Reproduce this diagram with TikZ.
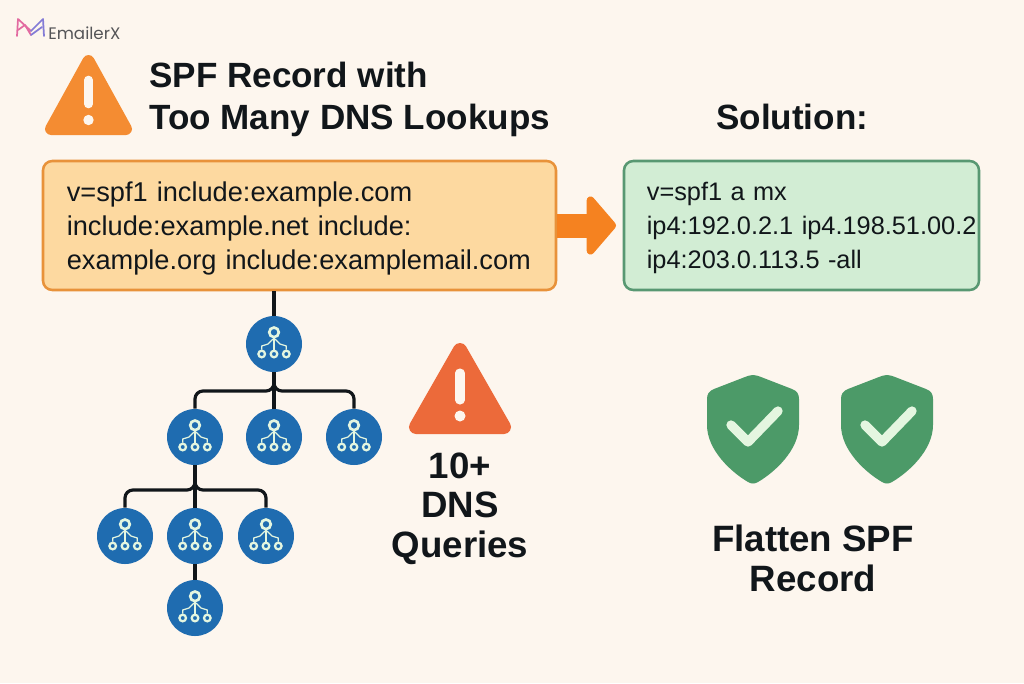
\documentclass[tikz,border=0pt]{standalone}
\usepackage{fontspec}
\setmainfont{Liberation Sans}
\newfontfamily\logofont{Poppins}
\usetikzlibrary{arrows.meta}

\definecolor{pagecream}{RGB}{253,246,238}
\definecolor{inkdark}{RGB}{17,22,26}
\definecolor{boxorange}{RGB}{253,217,160}
\definecolor{lineorange}{RGB}{232,146,58}
\definecolor{boxgreen}{RGB}{210,237,212}
\definecolor{linegreen}{RGB}{88,152,114}
\definecolor{arroworange}{RGB}{245,130,32}
\definecolor{warnorange}{RGB}{244,140,50}
\definecolor{warnred}{RGB}{236,106,58}
\definecolor{netblue}{RGB}{31,108,176}
\definecolor{shieldgreen}{RGB}{76,154,104}
\definecolor{checkgreen}{RGB}{228,246,224}
\definecolor{logopink}{RGB}{226,106,160}
\definecolor{logoviolet}{RGB}{132,124,214}

\tikzset{
  recordbox/.style={draw, line width=1.9pt, rounded corners=7pt, minimum height=96.75pt, inner xsep=0pt, inner ysep=0pt, align=left, text=inkdark},
  headtext/.style={text=inkdark, font=\fontsize{26.3}{31.5}\selectfont\bfseries, align=left, inner sep=0pt},
  sidetext/.style={text=inkdark, font=\fontsize{27.5}{29.5}\selectfont\bfseries, align=center, inner sep=0pt},
  netnode/.style={circle, fill=netblue, minimum size=42pt, inner sep=0pt},
  treeline/.style={draw=inkdark, line width=2.4pt},
  glyphline/.style={draw=checkgreen, line width=0.9pt},
  logoline/.style={line width=1.3pt, line join=round, line cap=round},
  netglyph/.pic={
    \begin{scope}[yscale=-1]
    \draw [glyphline, line width=2pt] (0,-11.7) circle [radius=4.8];
    \draw [glyphline, line width=1.7pt] (-12.3,10) circle [radius=3.3];
    \draw [glyphline, line width=1.7pt] (0,10) circle [radius=3.3];
    \draw [glyphline, line width=1.7pt] (12.3,10) circle [radius=3.3];
    \draw [glyphline] (0,-6) -- (0,5.5);
    \draw [glyphline] (-1,-5) -- (-6,0) -- (-12.3,2) -- (-12.3,5.5);
    \draw [glyphline] (1,-5) -- (6,0) -- (12.3,2) -- (12.3,5.5);
    \end{scope}
  },
  shieldmark/.pic={
    \begin{scope}[yscale=-1]
    \fill [shieldgreen] (0,0) .. controls (3,0) and (5,1) .. (8,2) -- (39,14) .. controls (44,16) and (46,19) .. (46,24) -- (46,50) .. controls (46,75) and (22,97) .. (5,107) .. controls (2,109) and (-2,109) .. (-5,107) .. controls (-22,97) and (-46,75) .. (-46,50) -- (-46,24) .. controls (-46,19) and (-44,16) .. (-39,14) -- (-8,2) .. controls (-5,1) and (-3,0) .. (0,0) -- cycle ;
    \draw [checkgreen, line width=7pt, line cap=round, line join=round] (-22,50) -- (-5,67) -- (25,36) ;
    \end{scope}
  },
}

\begin{document}
\begin{tikzpicture}[x=0.75pt,y=0.75pt,yscale=-1,xscale=1]

    %Page background
    \fill [pagecream] (0,0) rectangle (1024,683) ;
    \useasboundingbox (0,0) rectangle (1024,683) ;

    %Logo
    \draw [logoline, draw=logopink] (17,36) -- (18,19) -- (31,31) ;
    \draw [logoline, draw=logopink] (18,30) -- (25,25) -- (31,35) ;
    \draw [logoline, draw=logoviolet] (31,31) -- (43,19) -- (44,36) ;
    \draw [logoline, draw=logoviolet] (31,35) -- (42,27) ;
    \node [anchor=west, inner sep=0pt, text={rgb,255:red,85;green,85;blue,88}, font=\logofont\fontsize{12.5}{14}\selectfont] (logotext) at (48,33) {EmailerX} ;

    %Warning triangle, orange
    \fill [warnorange, draw=warnorange, line width=9pt, line join=round] (88.5,61) -- (126,129) -- (51,129) -- cycle ;
    \draw [pagecream, line width=6.5pt, line cap=round] (88.5,80) -- (88.5,104) ;
    \fill [pagecream] (88.5,120) circle [radius=5.2] ;

    %Title
    \node [headtext, anchor=base west] (title) at (149,129) {SPF Record with\\Too Many DNS Lookups} ;
    \node [headtext, anchor=base west] (solution) at (716,129) {Solution:} ;

    %Record boxes
    \node [recordbox, fill=boxorange, draw=lineorange, minimum width=384.75pt, text width=349pt, font=\fontsize{20.4}{25.5}\selectfont] (spfbox) at (299.5,225.5) {\rule{0pt}{19pt}v=spf1 include:example.com\\include:example.net include:\\example.org include:examplemail.com} ;
    \node [recordbox, fill=boxgreen, draw=linegreen, minimum width=266.25pt, text width=232pt, font=\fontsize{19}{25.5}\selectfont] (fixbox) at (801.5,225.5) {\rule{0pt}{18pt}v=spf1 a mx\\\mbox{ip4:192.0.2.1 ip4.198.51.00.2}\\ip4:203.0.113.5 -all} ;

    %Arrow between boxes
    \draw [draw=arroworange, line width=18pt, shorten >=5pt, -{Triangle[round,length=23pt,width=52pt]}] (spfbox.east) -- (fixbox.west) ;

    %DNS tree
    \node [netnode] (root) at (274,344) {} ;
    \node [netnode] (hostA) at (195,437) {} ;
    \node [netnode] (hostB) at (274,437) {} ;
    \node [netnode] (hostC) at (354,437) {} ;
    \node [netnode] (leafA) at (125,536) {} ;
    \node [netnode] (leafB) at (195,536) {} ;
    \node [netnode] (leafC) at (266,536) {} ;
    \node [netnode] (leafD) at (195,608) {} ;
    \coordinate (busTop) at (274,382) ;
    \coordinate (busA) at (195,391) ;
    \coordinate (busC) at (354,391) ;
    \coordinate (busLow) at (195,481) ;
    \coordinate (busLowA) at (125,490) ;
    \coordinate (busLowC) at (266,490) ;
    \draw [treeline] (spfbox.south -| root) -- (root) ;
    \draw [treeline] (root) -- (hostB) ;
    \draw [treeline, rounded corners=6pt] (busTop) |- (busA) -- (hostA) ;
    \draw [treeline, rounded corners=6pt] (busTop) |- (busC) -- (hostC) ;
    \draw [treeline] (hostA) -- (leafB) ;
    \draw [treeline, rounded corners=6pt] (busLow) |- (busLowA) -- (leafA) ;
    \draw [treeline, rounded corners=6pt] (busLow) |- (busLowC) -- (leafC) ;
    \draw [treeline] (leafB) -- (leafD) ;
    \pic at (root) {netglyph} ;
    \pic at (hostA) {netglyph} ;
    \pic at (hostB) {netglyph} ;
    \pic at (hostC) {netglyph} ;
    \pic at (leafA) {netglyph} ;
    \pic at (leafB) {netglyph} ;
    \pic at (leafC) {netglyph} ;
    \pic at (leafD) {netglyph} ;

    %Warning triangle, red
    \fill [warnred, draw=warnred, line width=10.5pt, line join=round] (460,350) -- (504,427) -- (416,427) -- cycle ;
    \draw [pagecream, line width=6.8pt, line cap=round] (460,373) -- (460,400) ;
    \fill [pagecream] (460,416) circle [radius=5.5] ;
    \node [sidetext, anchor=base] (queries) at (460,557) {10+\\DNS\\Queries} ;

    %Shields
    \pic at (753,375) {shieldmark} ;
    \pic at (887,375) {shieldmark} ;
    \node [sidetext, anchor=base] (flatten) at (813,591) {Flatten SPF\\Record} ;

\end{tikzpicture}
\end{document}
